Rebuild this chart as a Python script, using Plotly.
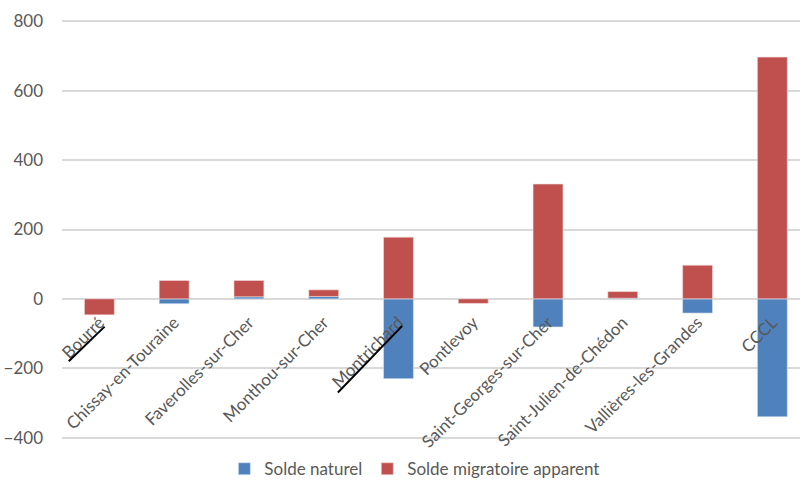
import plotly.graph_objects as go

communes = ["Bourré", "Chissay-en-Touraine", "Faverolles-sur-Cher", "Monthou-sur-Cher",
            "Montrichard", "Pontlevoy", "Saint-Georges-sur-Cher", "Saint-Julien-de-Chédon",
            "Vallières-les-Grandes", "CCCL"]
solde_naturel = [0, -14, 6, 7, -230, 0, -81, 2, -41, -340]
solde_migratoire = [-46, 53, 47, 19, 178, -13, 331, 19, 97, 697]

# diagonal marks drawn under two labels (data coords)
marks = [((-0.41, -180), (0.07, -80)), ((3.19, -270), (4.05, -78))]

font = dict(family="Lato", size=17, color="#595959")

fig = go.Figure()
fig.add_bar(x=communes, y=solde_naturel, name="Solde naturel",
            marker=dict(color="#4f81bd", line=dict(color="#dce6f2", width=0.6)))
fig.add_bar(x=communes, y=solde_migratoire, name="Solde migratoire apparent",
            marker=dict(color="#c0504d", line=dict(color="#f2dcdb", width=0.6)))

for (x0, y0), (x1, y1) in marks:
    fig.add_shape(type="line", x0=x0, y0=y0, x1=x1, y1=y1, xref="x", yref="y",
                  line=dict(color="black", width=2))

fig.update_layout(
    barmode="relative", bargap=0.6,
    width=800, height=488, margin=dict(l=62, r=0, t=20, b=49, autoexpand=False),
    paper_bgcolor="white", plot_bgcolor="white", font=font,
    legend=dict(orientation="h", x=0.22, y=-0.115, xanchor="left", yanchor="bottom",
                font=font, itemwidth=30, traceorder="normal"),
    xaxis=dict(range=[-0.5, 9.37], tickangle=-45, anchor="free", position=404 / 1208,
               showline=False, showgrid=False, ticks="outside", ticklen=6,
               tickcolor="rgba(0,0,0,0)", tickfont=font, automargin=False),
    yaxis=dict(range=[-404, 804], tickvals=[-400, -200, 0, 200, 400, 600, 800],
               showgrid=True, gridcolor="#d9d9d9", gridwidth=1.5, zeroline=False,
               ticklabelstandoff=18, tickfont=font, automargin=False),
)

fig.write_html("out.html", config={"displayModeBar": False},
               post_script="document.body.style.margin='0';")
